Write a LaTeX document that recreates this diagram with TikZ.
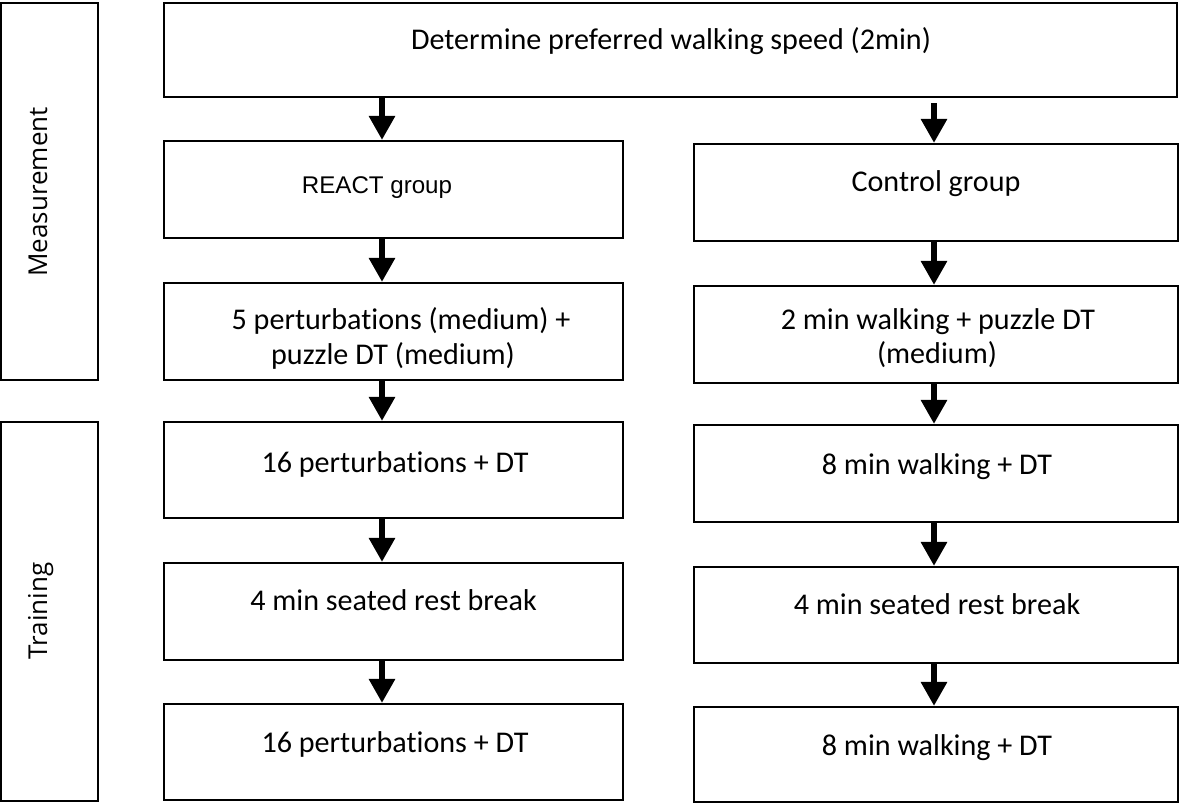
\documentclass[tikz,border=0pt]{standalone}
\usepackage{fontspec}
\setmainfont{Carlito}[Ligatures=NoCommon]
\newfontfamily\arialf{Liberation Sans}
\newfontfamily\sidef{Open Sans}
\usetikzlibrary{arrows.meta,fit}
\begin{document}
\begin{tikzpicture}[x=0.03cm,y=-0.03cm,
 box/.style={draw=black, line width=1.8pt, inner sep=0pt, fill=white},
 txt/.style={font=\fontsize{25.7}{30}\selectfont, inner sep=0pt, anchor=base},
 arialtxt/.style={font=\arialf\fontsize{20.6}{24}\selectfont, inner sep=0pt, anchor=base},
 side/.style={font=\sidef\fontsize{22.2}{26}\selectfont, rotate=90, anchor=base, inner sep=0pt},
 arr/.style={line width=5.1pt, -{Triangle[width=21.3pt,length=20.5pt]}}]
\useasboundingbox (0,0) rectangle (1181,805);
% side boxes
\node[box, fit={(1,3)(98,380)}] (meas) {};
\node[box, fit={(1,422)(98,801)}] (train) {};
\node[side] (measT) at (47,192) {Measurement};
\node[side] (trainT) at (47,611) {Training};
% top box
\node[box, fit={(164,3)(1177,97)}] (top) {};
\node[txt] (topT) at (671,49) {Determine preferred walking speed (2min)};
% left column
\node[box, fit={(164,141)(623,238)}] (react) {};
\node[box, fit={(164,283)(623,380)}] (pert5) {};
\node[box, fit={(164,422)(623,518)}] (pertA) {};
\node[box, fit={(164,563)(623,660)}] (restL) {};
\node[box, fit={(164,704)(623,800)}] (pertB) {};
% right column
\node[box, fit={(694,144)(1178,241)}] (ctrl) {};
\node[box, fit={(694,286)(1178,383)}] (walk2) {};
\node[box, fit={(694,425)(1178,522)}] (walkA) {};
\node[box, fit={(694,567)(1178,663)}] (restR) {};
\node[box, fit={(694,707)(1178,802)}] (walkB) {};
% texts
\node[arialtxt] (reactT) at (377,193) {REACT group};
\node[txt] (pert5Ta) at (401,329) {5 perturbat\kern0pt ions (medium) +};
\node[txt] (pert5Tb) at (393,364) {puzzle DT (medium)};
\node[txt] (pertAT) at (395,472) {16 perturbat\kern0pt ions + DT};
\node[txt] (restLT) at (393.5,610) {4 min seated rest break};
\node[txt] (pertBT) at (395,752) {16 perturbat\kern0pt ions + DT};
\node[txt] (ctrlT) at (936,191) {Control group};
\node[txt] (walk2Ta) at (938,329) {2 min walking + puzzle DT};
\node[txt] (walk2Tb) at (937,363) {(medium)};
\node[txt] (walkAT) at (937,474) {8 min walking + DT};
\node[txt] (restRT) at (937,614) {4 min seated rest break};
\node[txt] (walkBT) at (937,755) {8 min walking + DT};
% arrow columns
\coordinate (Lx) at (382,0);
\coordinate (Rx) at (934,0);
\coordinate (rstart) at ([yshift=-4.3pt]top.south -| Rx);
\draw[arr] (top.south -| Lx) -- (react.north -| Lx);
\draw[arr] (react.south -| Lx) -- (pert5.north -| Lx);
\draw[arr] (pert5.south -| Lx) -- (pertA.north -| Lx);
\draw[arr] (pertA.south -| Lx) -- (restL.north -| Lx);
\draw[arr] (restL.south -| Lx) -- (pertB.north -| Lx);
\draw[arr] (rstart) -- (ctrl.north -| Rx);
\draw[arr] (ctrl.south -| Rx) -- (walk2.north -| Rx);
\draw[arr] (walk2.south -| Rx) -- (walkA.north -| Rx);
\draw[arr] (walkA.south -| Rx) -- (restR.north -| Rx);
\draw[arr] (restR.south -| Rx) -- (walkB.north -| Rx);
\end{tikzpicture}
\end{document}
